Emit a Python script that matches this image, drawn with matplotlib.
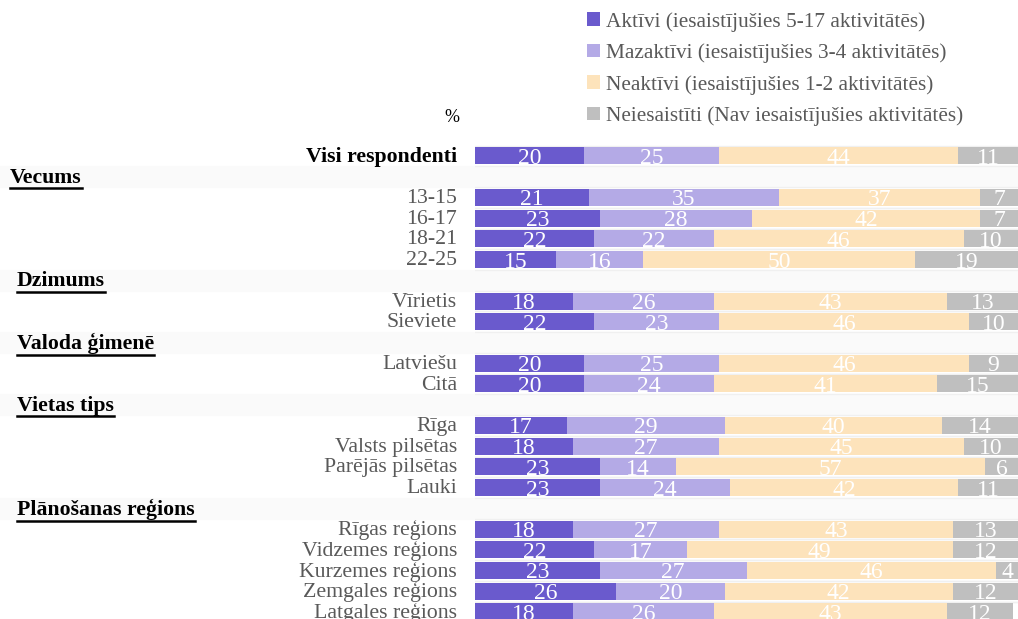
import matplotlib.pyplot as plt
from matplotlib.patches import Patch
from matplotlib.lines import Line2D

plt.rcParams['font.family'] = ['Liberation Serif', 'DejaVu Serif']

# rows top to bottom; group header rows carry no values
rows = ['Visi respondenti', 'Vecums', '13-15', '16-17', '18-21', '22-25',
        'Dzimums', 'Vīrietis', 'Sieviete',
        'Valoda ģimenē', 'Latviešu', 'Citā',
        'Vietas tips', 'Rīga', 'Valsts pilsētas', 'Parējās pilsētas', 'Lauki',
        'Plānošanas reģions', 'Rīgas reģions', 'Vidzemes reģions',
        'Kurzemes reģions', 'Zemgales reģions', 'Latgales reģions']
headers = ['Vecums', 'Dzimums', 'Valoda ģimenē', 'Vietas tips', 'Plānošanas reģions']

aktivi =      [20, None, 21, 23, 22, 15, None, 18, 22, None, 20, 20, None, 17, 18, 23, 23, None, 18, 22, 23, 26, 18]
mazaktivi =   [25, None, 35, 28, 22, 16, None, 26, 23, None, 25, 24, None, 29, 27, 14, 24, None, 27, 17, 27, 20, 26]
neaktivi =    [44, None, 37, 42, 46, 50, None, 43, 46, None, 46, 41, None, 40, 45, 57, 42, None, 43, 49, 46, 42, 43]
neiesaistiti = [11, None, 7, 7, 10, 19, None, 13, 10, None, 9, 15, None, 14, 10, 6, 11, None, 13, 12, 4, 12, 12]

series = [aktivi, mazaktivi, neaktivi, neiesaistiti]
names = ['Aktīvi (iesaistījušies 5-17 aktivitātēs)',
         'Mazaktīvi (iesaistījušies 3-4 aktivitātēs)',
         'Neaktīvi (iesaistījušies 1-2 aktivitātēs)',
         'Neiesaistīti (Nav iesaistījušies aktivitātēs)']
colors = ['#6a5acd', '#b4aae6', '#fde3bb', '#bfbfbf']

W, H = 1018, 619
fig = plt.figure(figsize=(W / 100, H / 100), dpi=100)
ax = fig.add_axes([475 / W, 0, 543 / W, 479 / H])
ax.set_xlim(0, 100)
ax.set_ylim(22.34, -0.77)
ax.axis('off')

for i, r in enumerate(rows):
    if r in headers:
        ax.axhspan(i - 0.5, i + 0.5, xmin=-0.875, xmax=1, color='#fafafa',
                   zorder=0, clip_on=False)
        continue
    left = 0
    for s, c in zip(series, colors):
        v = s[i]
        ax.barh(i, v, left=left, height=0.82, color=c, edgecolor='none', zorder=2)
        mid = (left + min(left + v, 100)) / 2
        ax.text(mid, i + 0.12, str(v), ha='center', va='center', color='white',
                fontsize=17, zorder=3)
        left += v
    ax.axhline(i - 0.5, color='#f0f0f0', lw=1, zorder=1)
    ax.axhline(i + 0.5, color='#f0f0f0', lw=1, zorder=1)

# category labels
head_texts = []
for i, r in enumerate(rows):
    ypix = 1 - (157 + i * 20.73) / H
    if r in headers:
        x = 10 if r == 'Vecums' else 17
        t = fig.text(x / W, ypix, r, ha='left', va='center', fontsize=15.7,
                     fontweight='bold', color='black')
        head_texts.append(t)
    elif i == 0:
        fig.text(457 / W, ypix, r, ha='right', va='center', fontsize=15.7,
                 fontweight='bold', color='black')
    else:
        fig.text(457 / W, ypix, r, ha='right', va='center', fontsize=15.7,
                 color='#595959')

fig.text(452 / W, 1 - 118 / H, '%', ha='center', va='center', fontsize=13)

handles = [Patch(facecolor=c, edgecolor='none') for c in colors]
leg = fig.legend(handles, names, loc='upper left', bbox_to_anchor=(587 / W, 1 - 12 / H),
                 frameon=False, fontsize=15.3, handlelength=0.6, handleheight=0.6,
                 handletextpad=0.3, labelspacing=0.55, borderpad=0, borderaxespad=0)
for t in leg.get_texts():
    t.set_color('#595959')

# underline the group headers
fig.canvas.draw()
r = fig.canvas.get_renderer()
for t in head_texts:
    bb = t.get_window_extent(r)
    y = (bb.y0 - 0.5) / H
    fig.add_artist(Line2D([bb.x0 / W, bb.x1 / W], [y, y], color='black', lw=1.8,
                          transform=fig.transFigure))

fig.savefig('out.png', dpi=100)
